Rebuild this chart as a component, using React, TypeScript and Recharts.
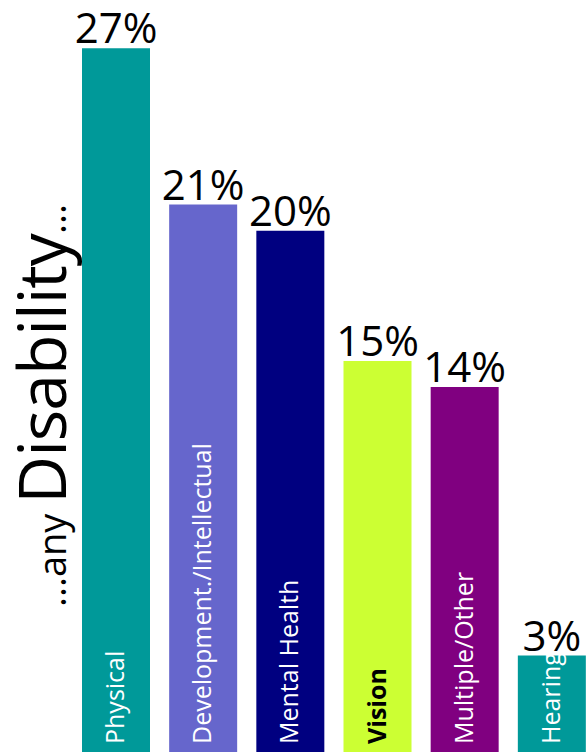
import React from "react";
import { BarChart, Bar, XAxis, YAxis, Cell, LabelList } from "recharts";

const categories = [
  "Physical",
  "Development./Intellectual",
  "Mental Health",
  "Vision",
  "Multiple/Other",
  "Hearing",
];
const shares = [27, 21, 20, 15, 14, 3.7];
const shareLabels = ["27%", "21%", "20%", "15%", "14%", "3%"];
const barColors = ["#009999", "#6666cc", "#000080", "#ccff33", "#800080", "#009999"];

const data = categories.map((name, i) => ({ name, share: shares[i], label: shareLabels[i] }));

const FONT = "'Open Sans', sans-serif";

function TopLabel(props: any) {
  const { x, y, width, index } = props;
  return (
    <text
      x={x + width / 2}
      y={y - 5}
      textAnchor="middle"
      fontFamily={FONT}
      fontSize={42}
      fill="#000"
    >
      {shareLabels[index]}
    </text>
  );
}

function InnerLabel(props: any) {
  const { x, y, width, height, index } = props;
  const isVision = categories[index] === "Vision";
  const cx = x + width / 2 + 8;
  const cy = y + height - 8;
  return (
    <text
      x={cx}
      y={cy}
      transform={`rotate(-90 ${cx} ${cy})`}
      textAnchor="start"
      fontFamily={FONT}
      fontSize={25}
      fontWeight={isVision ? 700 : 400}
      fill={isVision ? "#000" : "#fff"}
    >
      {categories[index]}
    </text>
  );
}

function AxisTitle() {
  const x = 66;
  const y = 607;
  return (
    <text
      x={x}
      y={y}
      transform={`rotate(-90 ${x} ${y})`}
      textAnchor="start"
      fontFamily={FONT}
      fill="#000"
    >
      <tspan fontSize={38}>...any </tspan>
      <tspan fontSize={66} letterSpacing={-1}>Disability</tspan>
      <tspan fontSize={38}>...</tspan>
    </text>
  );
}

export default function App() {
  return (
    <div
      style={{
        position: "absolute",
        left: 0,
        top: 0,
        width: 587,
        height: 752,
        overflow: "hidden",
        background: "#fff",
      }}
    >
      <BarChart width={595} height={752} data={data} margin={{ top: 0, right: 0, bottom: 0, left: 0 }}>
        <XAxis dataKey="name" hide />
        <YAxis
          domain={[0, 28.85]}
          width={72}
          tick={false}
          axisLine={false}
          tickLine={false}
          label={{ content: AxisTitle }}
        />
        <Bar dataKey="share" barSize={68} isAnimationActive={false}>
          {data.map((d, i) => (
            <Cell key={d.name} fill={barColors[i]} />
          ))}
          <LabelList dataKey="label" content={TopLabel} />
          <LabelList dataKey="name" content={InnerLabel} />
        </Bar>
      </BarChart>
    </div>
  );
}
